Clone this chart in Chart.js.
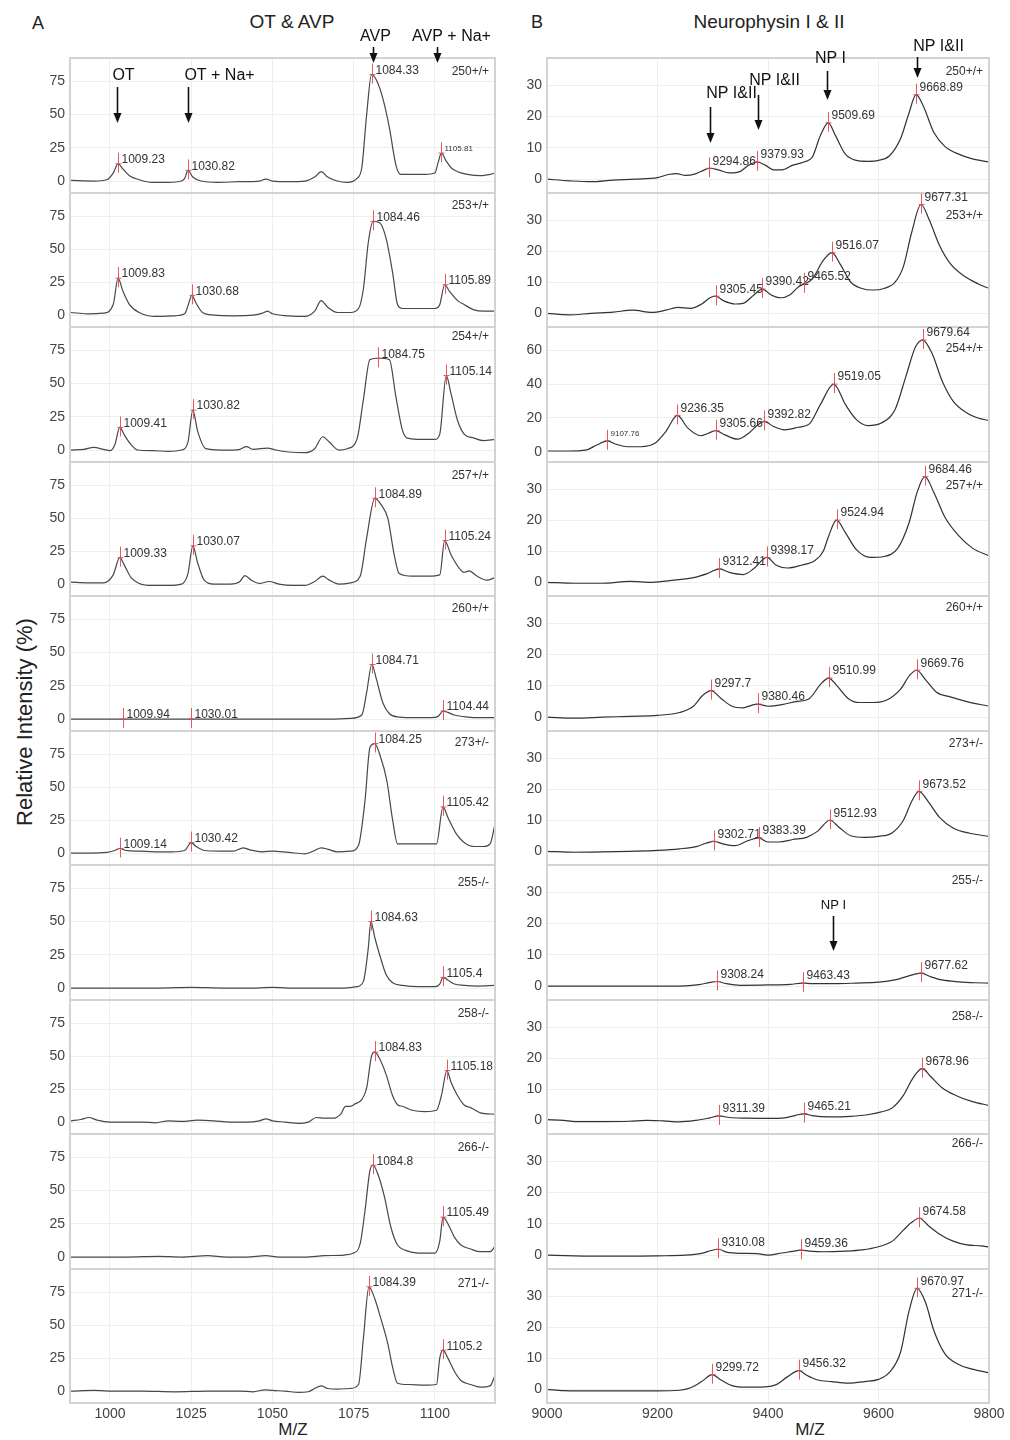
<!DOCTYPE html>
<html>
<head>
<meta charset="utf-8">
<title>OT & AVP / Neurophysin I & II</title>
<script src="https://cdn.jsdelivr.net/npm/chart.js@4.4.1/dist/chart.umd.min.js"></script>
<style>
  body { margin: 0; background: #fff; font-family: "Liberation Sans", Arial, sans-serif; }
  #fig { position: relative; width: 1010px; height: 1440px; overflow: hidden; }
  #fig canvas { position: absolute; }
  .t { position: absolute; color: #222; white-space: nowrap; transform: translate(-50%, -50%); }
</style>
</head>
<body>
<div id="fig">
  <div class="t" style="left:38px;top:23px;font-size:18px">A</div>
  <div class="t" style="left:292px;top:22px;font-size:19px">OT &amp; AVP</div>
  <div class="t" style="left:537px;top:22px;font-size:18px">B</div>
  <div class="t" style="left:769px;top:22px;font-size:19px">Neurophysin I &amp; II</div>
  <div class="t" style="left:25px;top:722px;font-size:22px;transform:translate(-50%,-50%) rotate(-90deg)">Relative Intensity (%)</div>
  <div class="t" style="left:293px;top:1430px;font-size:17px">M/Z</div>
  <div class="t" style="left:810px;top:1430px;font-size:17px">M/Z</div>
</div>
<script>
// --- DATA ---
const samples = ['250+/+', '253+/+', '254+/+', '257+/+', '260+/+', '273+/-', '255-/-', '258-/-', '266-/-', '271-/-'];

const mzTicksA = [1000, 1025, 1050, 1075, 1100];
const mzTicksB = [9000, 9200, 9400, 9600, 9800];
const intTicksA = [0, 25, 50, 75];
const intTicksB = [0, 10, 20, 30];
const intTicksB254 = [0, 20, 40, 60];

// Panel A: OT & AVP traces [m/z, relative intensity]
const avp250 = [[988,0.5],[995,0],[999,1],[1001,6],[1002.5,13],[1004,9],[1006,4],[1009,1],[1013,-1],[1018,-1],[1022,0],[1023,2],[1024,8],[1025.5,3],[1028,0],[1033,-1],[1040,-0.5],[1046,0],[1048,1.5],[1050,0],[1055,-0.5],[1060,0],[1063,3],[1065,7],[1067,3],[1070,0],[1073,-1],[1076,2],[1077.5,10],[1079,50],[1080.5,80],[1082,76],[1084,62],[1086,40],[1088,12],[1089.5,5],[1093,5],[1097,5],[1100,6],[1101,14],[1102,21],[1103.5,15],[1105,10],[1107,7],[1110,5],[1114,4],[1117,5],[1118.5,6]];
const avp253 = [[988,2],[993,1],[998,1.5],[1001,8],[1002.5,28],[1004,18],[1006,8],[1009,2],[1014,-1],[1020,-0.5],[1023,1],[1024,7],[1025.2,15],[1026.5,9],[1028.5,2],[1032,0],[1038,-0.5],[1044,0],[1047,1.5],[1048.5,3],[1050,1],[1055,-0.5],[1060,-1],[1063,3],[1065,11],[1067,6],[1070,2],[1074,2],[1076.5,5],[1078,20],[1079.5,55],[1081,71],[1083,70],[1085,58],[1087,32],[1088.5,8],[1090,5],[1095,5],[1100,5],[1101.5,8],[1103,23],[1104.5,18],[1107,11],[1109,8],[1112,4],[1115,3],[1118.5,3]];
const avp254 = [[988,0],[992,0.5],[995,2],[998,0.5],[1000,-0.5],[1001.5,4],[1003,17],[1004.5,11],[1006.5,4],[1008.5,0],[1013,-0.5],[1018,-1],[1022,0],[1024,6],[1025.5,30],[1027,14],[1029.5,1],[1034,0],[1038,0],[1040,0.5],[1042,2.5],[1044,0.5],[1048.5,1.5],[1051,0],[1055,-1.5],[1060,-2],[1063,1],[1065.5,10],[1067.5,6],[1070.5,0],[1073,1],[1076,8],[1078,38],[1080,68],[1083,69],[1086,68],[1088,40],[1090,15],[1091.5,9],[1096,8],[1100,8],[1101.5,12],[1103.5,56],[1105,42],[1107,22],[1109,12],[1112,9],[1115,7],[1118.5,8]];
const avp257 = [[988,1.5],[993,1],[998,1],[1001,7],[1003,20],[1004.5,14],[1006.5,5],[1009,0.5],[1013,-1],[1018,-1],[1022,0],[1024,8],[1025.5,29],[1027,16],[1029,3],[1032,0],[1037,0],[1040,2],[1041.5,6.5],[1043.5,3],[1046,0.5],[1049,2],[1052,0],[1056,-1],[1060,-1],[1063,2],[1065.5,6],[1067.5,3],[1070.5,0],[1074,1],[1077,6],[1079,35],[1081.5,65],[1083.5,60],[1085.5,50],[1087.5,22],[1089,8],[1093,6],[1098,6],[1101.5,7],[1103,33],[1105,22],[1107.5,12],[1109,9],[1110.5,10],[1113,6],[1116,3],[1118.5,5]];
const avp260 = [[988,0],[1000,0],[1010,0],[1020,0],[1030,0],[1040,0],[1050,0],[1060,0],[1068,0],[1074,0.5],[1077.5,3],[1079,20],[1080.6,41],[1082,30],[1084,12],[1086,4],[1089,1.5],[1094,1],[1099,1],[1101,2],[1102.5,6],[1104,5],[1106,3],[1110,1.5],[1114,1],[1118.5,1]];
const avp273 = [[988,0],[994,0],[999,0.5],[1001.5,2],[1003,3.5],[1005,2],[1009,1.5],[1014,1],[1019,1],[1023,2],[1025,8],[1026.5,5],[1029,2],[1034,1.5],[1038,1.5],[1041,4],[1043,2.5],[1047,1],[1050,1.5],[1055,0.5],[1060,-0.5],[1063,2],[1065,4],[1067,3],[1070,1],[1074,1.5],[1076.5,6],[1078.5,40],[1080,80],[1081.5,83],[1083,75],[1085.2,55],[1087,25],[1088.5,7],[1092,7],[1097,7],[1100.5,7],[1102.5,35],[1104,27],[1106.5,15],[1109,8],[1112,5],[1115,5],[1117,7],[1118.5,22]];
const avp255 = [[988,0],[995,0],[1005,0],[1015,0],[1025,0.5],[1035,0],[1045,0],[1050,0.5],[1055,0],[1065,0],[1072,0],[1076,1],[1078,5],[1079.5,30],[1080.3,50],[1081.5,38],[1083,25],[1085,10],[1087,4],[1090,2],[1095,1],[1100,1],[1101.5,3],[1102.5,8],[1104,6],[1106,3],[1109,2],[1113,1.5],[1118.5,2]];
const avp258 = [[988,1],[991,2],[993.5,3.5],[996,1.5],[1000,0],[1005,0],[1010,0],[1014,-0.5],[1018,1],[1022,0.5],[1027,1.5],[1032,1],[1037,0],[1042,0],[1046,1],[1048,2.5],[1050,1],[1054,0],[1058,-1],[1061,0],[1063.5,3.5],[1066,3],[1069,3],[1071,6],[1072.5,12],[1074,12],[1075.5,14],[1077.5,17],[1079,26],[1080.5,50],[1081.5,53],[1083,48],[1085,36],[1087,20],[1088.6,13],[1090,12],[1093,9],[1097,8],[1100.5,9],[1102,20],[1103.7,39],[1105,30],[1107,20],[1109,13],[1111,11],[1114,7],[1118.5,6]];
const avp266 = [[988,0],[995,0],[1005,0],[1015,0.5],[1022,0],[1030,1],[1036,0],[1042,0],[1048,1],[1052,0],[1060,0],[1066,1],[1072,1.5],[1075,3],[1077,10],[1078.5,35],[1080,65],[1081,69],[1082.5,62],[1084.5,45],[1086.5,22],[1088.5,9],[1091,5],[1095,3],[1100,3],[1101.5,12],[1102.5,30],[1104,25],[1106,15],[1108,9],[1111,6],[1114,4],[1117,4],[1118.5,8]];
const avp271 = [[988,0],[995,0.5],[1002,0],[1010,0],[1020,-0.5],[1030,0],[1040,0],[1044,-0.5],[1047.7,1],[1050,0.5],[1054,0],[1058,-1],[1061,-0.5],[1063,2],[1065,4],[1067,2],[1070,1.5],[1074,2],[1076.5,5],[1078,40],[1079.7,79],[1081.5,70],[1083,58],[1085.5,36],[1087,18],[1088.5,6],[1092,5],[1097,4.5],[1100.5,5],[1101.5,25],[1102.5,31],[1104,25],[1106,15],[1108,8],[1111,5],[1114,3],[1117,4],[1118.5,12]];

// Panel A peak labels [m/z, intensity, label]
const avpPeaks250 = [[1002.5,13,'1009.23'],[1024,8,'1030.82'],[1080.5,80,'1084.33'],[1102,21,'1105.81']];
const avpPeaks253 = [[1002.5,28,'1009.83'],[1025.2,15,'1030.68'],[1081,71,'1084.46'],[1103,23,'1105.89']];
const avpPeaks254 = [[1003,17,'1009.41'],[1025.5,30,'1030.82'],[1082.5,69,'1084.75'],[1103.5,56,'1105.14']];
const avpPeaks257 = [[1003,20,'1009.33'],[1025.5,29,'1030.07'],[1081.5,65,'1084.89'],[1103,33,'1105.24']];
const avpPeaks260 = [[1004,0,'1009.94'],[1025,0,'1030.01'],[1080.6,41,'1084.71'],[1102.5,6,'1104.44']];
const avpPeaks273 = [[1003,3.5,'1009.14'],[1025,8,'1030.42'],[1081.5,83,'1084.25'],[1102.5,35,'1105.42']];
const avpPeaks255 = [[1080.3,50,'1084.63'],[1102.5,8,'1105.4']];
const avpPeaks258 = [[1081.5,53,'1084.83'],[1103.7,39,'1105.18']];
const avpPeaks266 = [[1081,69,'1084.8'],[1102.5,30,'1105.49']];
const avpPeaks271 = [[1079.7,79,'1084.39'],[1102.5,31,'1105.2']];

// Panel B: Neurophysin traces [m/z, relative intensity]
const np250 = [[9000,0],[9040,-0.5],[9080,-0.8],[9120,-0.3],[9160,0],[9200,0.5],[9220,1.5],[9235,1.8],[9250,1.2],[9270,1.8],[9285,3],[9295,3.5],[9310,3],[9330,2],[9350,2.5],[9365,4.5],[9380,5.5],[9395,4.5],[9410,3],[9425,3],[9445,4.5],[9465,5.5],[9480,7],[9495,14],[9509,18],[9522,14],[9540,8],[9560,6],[9580,5.7],[9600,6],[9620,7.5],[9640,13],[9655,21],[9668,27],[9682,23],[9700,15],[9720,10.5],[9745,8],[9770,6.5],[9800,5.5]];
const np253 = [[9000,0],[9040,-0.5],[9080,0],[9120,0.4],[9155,1],[9190,0.3],[9215,1],[9236,1.9],[9260,1.6],[9280,3],[9295,5],[9305,5.5],[9320,4],[9340,3],[9355,3.2],[9375,6],[9390,7.8],[9405,6],[9423,5],[9440,6],[9455,8.5],[9466,9.5],[9480,11],[9500,17],[9516,19.5],[9530,16],[9550,10],[9570,8],[9590,7.5],[9610,8],[9630,10],[9645,15],[9660,26],[9677,35],[9692,30],[9710,22],[9730,16],[9755,12],[9780,9.5],[9800,8]];
const np254 = [[9000,0.5],[9040,0.5],[9070,1],[9090,4],[9109,6.5],[9125,4.5],[9145,3],[9170,3],[9195,5],[9215,12],[9236,21.5],[9255,14],[9278,9.5],[9292,11],[9305,12.5],[9322,10],[9345,7.5],[9365,11],[9380,15.5],[9393,18],[9410,15],[9430,13],[9455,14.5],[9475,16.5],[9495,28],[9519,40],[9540,28],[9560,19],[9581,15.5],[9605,17],[9630,25],[9650,45],[9667,62],[9680,66],[9697,58],[9715,42],[9735,30],[9760,23],[9780,20],[9800,18.5]];
const np257 = [[9000,0],[9050,-0.3],[9100,-0.3],[9150,0.3],[9190,0],[9230,0.7],[9265,1.5],[9290,2.8],[9312,4.3],[9330,3.2],[9355,2.5],[9375,4.5],[9398,8],[9415,5.5],[9435,4.6],[9460,5.5],[9485,7],[9500,10],[9510,15],[9524,20],[9540,16],[9560,10.5],[9585,8],[9610,8.3],[9635,11],[9655,19],[9670,29],[9684,34],[9700,29],[9720,21],[9745,15],[9770,11],[9800,8.5]];
const np260 = [[9000,0],[9050,-0.3],[9100,0],[9150,0.3],[9200,0.6],[9240,1.5],[9265,3.5],[9282,7],[9297,8.5],[9315,6],[9335,3.5],[9355,3],[9370,3.8],[9381,4.2],[9400,3.5],[9425,4],[9450,5],[9475,6],[9495,10.5],[9510,12.5],[9525,10],[9545,6],[9565,4.7],[9590,4.7],[9615,5.5],[9640,9],[9657,13.5],[9669,15],[9685,12],[9705,8],[9730,6.5],[9760,5],[9800,3.5]];
const np273 = [[9000,0],[9050,-0.3],[9100,-0.2],[9150,0],[9200,0.3],[9240,0.8],[9270,1.5],[9288,2.6],[9302,3.2],[9320,2.3],[9340,1.8],[9365,3.5],[9383,4.3],[9400,3],[9420,3],[9445,3.8],[9470,4.5],[9490,6.5],[9512,10],[9530,7.5],[9550,5],[9575,4.5],[9600,4.8],[9625,6],[9645,10],[9660,16],[9673,19.3],[9690,16],[9710,11],[9735,7.5],[9765,5.8],[9800,4.8]];
const np255 = [[9000,0],[9100,0],[9200,0],[9250,0.1],[9275,0.5],[9295,1.2],[9308,1.5],[9325,0.8],[9350,0.3],[9400,0.4],[9440,0.6],[9463,1],[9480,0.8],[9520,0.8],[9560,1],[9600,1.3],[9630,2],[9655,3.3],[9677,4.2],[9695,3],[9715,2],[9745,1.4],[9775,1.1],[9800,1]];
const np258 = [[9000,0.2],[9030,0],[9050,-0.4],[9100,-0.4],[9150,-0.3],[9180,0],[9210,-0.2],[9240,-0.5],[9270,0],[9295,0.8],[9311,1.4],[9330,0.9],[9360,0.7],[9400,0.6],[9430,0.8],[9450,1.6],[9465,2.1],[9480,1.5],[9510,1.1],[9550,1.3],[9580,1.8],[9605,2.7],[9625,4],[9645,8],[9662,13.5],[9679,16.6],[9695,14],[9715,10.5],[9740,8],[9770,6],[9800,4.8]];
const np266 = [[9000,0],[9050,-0.2],[9100,-0.3],[9150,-0.3],[9200,-0.2],[9250,0],[9280,0.6],[9297,1.5],[9310,1.9],[9325,1],[9350,0.6],[9380,0.5],[9400,0],[9425,0.7],[9445,1.2],[9459,1.6],[9475,1.3],[9500,1.1],[9540,1.3],[9570,1.7],[9600,2.7],[9625,4.5],[9645,8],[9660,10.5],[9674,11.8],[9690,9.5],[9710,6.8],[9735,4.5],[9760,3.3],[9785,3],[9800,2.6]];
const np271 = [[9000,0],[9030,-0.4],[9100,-0.5],[9150,-0.5],[9200,-0.5],[9240,-0.3],[9260,0.5],[9280,2.5],[9299,4.7],[9315,3],[9335,1.2],[9360,0.7],[9395,0.8],[9415,1.5],[9435,4],[9456,6],[9470,4.5],[9490,3],[9515,2.5],[9545,2],[9575,2.5],[9600,3.2],[9620,5.5],[9640,12],[9655,25],[9670,32.5],[9685,28],[9700,19],[9720,11.5],[9745,8],[9770,6.5],[9800,5.3]];

// Panel B peak labels [m/z, intensity, label]
const npPeaks250 = [[9294,3.5,'9294.86'],[9380,5.5,'9379.93'],[9509,18,'9509.69'],[9668,27,'9668.89']];
const npPeaks253 = [[9305,5.5,'9305.45'],[9390,7.8,'9390.42'],[9466,9.5,'9465.52'],[9516,19.5,'9516.07'],[9677,35,'9677.31']];
const npPeaks254 = [[9109,6.5,'9107.76'],[9236,21.5,'9236.35'],[9305,12.5,'9305.66'],[9393,18,'9392.82'],[9519,40,'9519.05'],[9680,66,'9679.64']];
const npPeaks257 = [[9312,4.3,'9312.41'],[9398,8,'9398.17'],[9524,20,'9524.94'],[9684,34,'9684.46']];
const npPeaks260 = [[9297,8.5,'9297.7'],[9381,4.2,'9380.46'],[9510,12.5,'9510.99'],[9669,15,'9669.76']];
const npPeaks273 = [[9302,3.2,'9302.71'],[9383,4.3,'9383.39'],[9512,10,'9512.93'],[9673,19.3,'9673.52']];
const npPeaks255 = [[9308,1.5,'9308.24'],[9463,1,'9463.43'],[9677,4.2,'9677.62']];
const npPeaks258 = [[9311,1.4,'9311.39'],[9465,2.1,'9465.21'],[9679,16.6,'9678.96']];
const npPeaks266 = [[9310,1.9,'9310.08'],[9459,1.6,'9459.36'],[9674,11.8,'9674.58']];
const npPeaks271 = [[9299,4.7,'9299.72'],[9456,6,'9456.32'],[9670,32.5,'9670.97']];

// labels printed in a tiny font on the original
const tinyLabels = ['1105.81', '9107.76'];

// arrow notes [text, m/z they point at]
const avpArrows = [['OT', 1002.2], ['OT + Na+', 1024], ['AVP', 1080.9], ['AVP + Na+', 1100.7]];
const npArrows = [['NP I&II', 9294.5], ['NP I&II', 9382], ['NP I', 9507], ['NP I&II', 9669]];
const npArrows255 = [['NP I', 9518]];

const avpTraces = [avp250, avp253, avp254, avp257, avp260, avp273, avp255, avp258, avp266, avp271];
const avpPeaks = [avpPeaks250, avpPeaks253, avpPeaks254, avpPeaks257, avpPeaks260, avpPeaks273, avpPeaks255, avpPeaks258, avpPeaks266, avpPeaks271];
const npTraces = [np250, np253, np254, np257, np260, np273, np255, np258, np266, np271];
const npPeaks = [npPeaks250, npPeaks253, npPeaks254, npPeaks257, npPeaks260, npPeaks273, npPeaks255, npPeaks258, npPeaks266, npPeaks271];

// --- LAYOUT ---
// arrow placement in px from panel top: [text dx, text y, arrow start, arrow tip]
const avpArrowPos = [[6, 18, 29, 65], [31, 18, 29, 65], [2, -21, -11, 5], [14, -21, -11, 5]];
const npArrowPos = [[21, 36, 49, 85], [16, 23, 37, 72], [3, 1, 13, 42], [21, -11, -1, 20]];
const npArrow255Pos = [[0, 40, 51, 86]];
const tagDyA = [14, 13, 10, 14, 13, 12, 18, 14, 14, 15];
const tagDyB = [14, 23, 22, 24, 12, 13, 16, 17, 10, 25];

const FONT = '"Liberation Sans", Arial, sans-serif';
const colA = { left: 0, width: 515, axisW: 70, padRight: 20, min: 987.7, max: 1118.5, ticks: mzTicksA, line: '#484848', labelDy: -4 };
const colB = { left: 500, width: 510, axisW: 47, padRight: 21, min: 9000, max: 9800, ticks: mzTicksB, line: '#333', labelDy: -7 };

const fig = document.getElementById('fig');
const panelTop = k => Math.round(58 + k * 134.5);
const AXIS_H = 30;

function overlay(cfg) {
    return {
        id: 'overlay',
        afterDatasetsDraw(chart) {
            const { ctx, chartArea: a, scales: { x, y } } = chart;
            ctx.save();
            // panel frame
            ctx.strokeStyle = '#d3d3d3';
            ctx.lineWidth = 2;
            ctx.strokeRect(a.left, a.top, a.right - a.left, a.bottom - a.top);

            // peak marks and their m/z labels
            ctx.textBaseline = 'middle';
            ctx.textAlign = 'left';
            cfg.peaks.forEach(([mz, v, txt]) => {
                const px = Math.round(x.getPixelForValue(mz)) + 0.5;
                const py = y.getPixelForValue(v);
                ctx.strokeStyle = 'rgba(228,70,82,0.9)';
                ctx.lineWidth = 1;
                ctx.beginPath();
                ctx.moveTo(px, py - 11);
                ctx.lineTo(px, py + 9);
                ctx.moveTo(px - 3, py);
                ctx.lineTo(px + 3, py);
                ctx.stroke();
                ctx.fillStyle = '#333';
                ctx.font = (tinyLabels.includes(txt) ? '8px ' : '12px ') + FONT;
                ctx.fillText(txt, px + 3, py + cfg.labelDy);
            });

            // sample tag
            ctx.textAlign = 'right';
            ctx.fillStyle = '#333';
            ctx.font = '12px ' + FONT;
            ctx.fillText(cfg.tag, a.right - 6, a.top + cfg.tagDy);

            // arrows
            cfg.arrows.forEach(([txt, mz], i) => {
                const [dx, ty, y0, y1] = cfg.arrowPos[i];
                const px = Math.round(x.getPixelForValue(mz)) + 0.5;
                ctx.textAlign = 'center';
                ctx.fillStyle = '#111';
                ctx.font = cfg.arrowFont + 'px ' + FONT;
                ctx.fillText(txt, px + dx, a.top + ty);
                ctx.strokeStyle = '#111';
                ctx.lineWidth = 1.6;
                ctx.beginPath();
                ctx.moveTo(px, a.top + y0);
                ctx.lineTo(px, a.top + y1 - 8);
                ctx.stroke();
                ctx.beginPath();
                ctx.moveTo(px - 4, a.top + y1 - 10);
                ctx.lineTo(px + 4, a.top + y1 - 10);
                ctx.lineTo(px, a.top + y1);
                ctx.closePath();
                ctx.fill();
            });
            ctx.restore();
        }
    };
}

function addPanel(col, k, trace, peaks, yRange, yTicks, extra) {
    const top = panelTop(k), bottom = panelTop(k + 1);
    const last = k === samples.length - 1;
    const cTop = k === 0 ? 0 : top - 10;
    const h = bottom - cTop + (last ? AXIS_H : 0);
    const canvas = document.createElement('canvas');
    canvas.width = col.width;
    canvas.height = h;
    canvas.style.left = col.left + 'px';
    canvas.style.top = cTop + 'px';
    fig.appendChild(canvas);

    new Chart(canvas, {
        type: 'line',
        data: {
            datasets: [{
                data: trace,
                borderColor: col.line,
                borderWidth: 1.2,
                pointRadius: 0,
                fill: false,
                cubicInterpolationMode: 'monotone'
            }]
        },
        options: {
            responsive: false,
            animation: false,
            devicePixelRatio: 1,
            layout: { padding: { top: top - cTop, right: col.padRight, left: 0, bottom: 0 } },
            plugins: { legend: { display: false }, tooltip: { enabled: false } },
            scales: {
                x: {
                    type: 'linear',
                    min: col.min,
                    max: col.max,
                    afterBuildTicks: s => { s.ticks = col.ticks.map(v => ({ value: v })); },
                    grid: { color: '#eeeeee', drawTicks: false },
                    border: { display: false },
                    ticks: { display: last, padding: 3, color: '#444', font: { size: 14, family: FONT }, maxRotation: 0, autoSkip: false, callback: v => String(v) },
                    afterFit: s => { s.height = last ? AXIS_H : 0; s.paddingLeft = 0; s.paddingRight = 0; }
                },
                y: {
                    type: 'linear',
                    min: yRange[0],
                    max: yRange[1],
                    afterBuildTicks: s => { s.ticks = yTicks.map(v => ({ value: v })); },
                    grid: { color: '#eeeeee', drawTicks: false },
                    border: { display: false },
                    ticks: { padding: 5, color: '#444', font: { size: 14, family: FONT }, callback: v => String(v) },
                    afterFit: s => { s.width = col.axisW; s.paddingTop = 0; s.paddingBottom = 0; }
                }
            }
        },
        plugins: [overlay(Object.assign({ peaks, tag: samples[k], arrows: [], arrowPos: [], arrowFont: 16, labelDy: col.labelDy }, extra))]
    });
}

samples.forEach((s, k) => {
    addPanel(colA, k, avpTraces[k], avpPeaks[k], [-9, 92.5], intTicksA,
        Object.assign({ tagDy: tagDyA[k] }, k === 0 ? { arrows: avpArrows, arrowPos: avpArrowPos } : {}));

    let extraB = { tagDy: tagDyB[k] };
    if (k === 0) extraB = Object.assign(extraB, { arrows: npArrows, arrowPos: npArrowPos });
    if (s === '255-/-') extraB = Object.assign(extraB, { arrows: npArrows255, arrowPos: npArrow255Pos, arrowFont: 13 });
    const yr = s === '254+/+' ? [-6, 73.7] : [-4.4, 38.7];
    addPanel(colB, k, npTraces[k], npPeaks[k], yr, s === '254+/+' ? intTicksB254 : intTicksB, extraB);
});
</script>
</body>
</html>
